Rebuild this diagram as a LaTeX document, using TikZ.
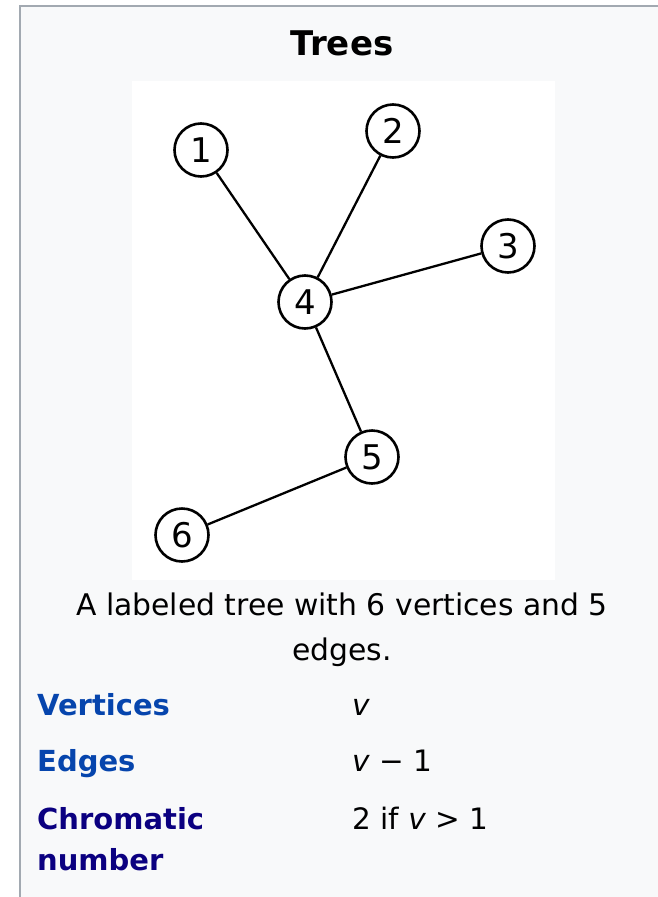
\documentclass[tikz,border=0pt]{standalone}
\usepackage{fontspec}
\setmainfont{DejaVu Sans}
\usetikzlibrary{positioning}
\definecolor{boxbg}{HTML}{F8F9FA}
\definecolor{boxline}{HTML}{A2A9B1}
\definecolor{linkblue}{HTML}{0645AD}
\definecolor{linkvisited}{HTML}{0B0080}
\tikzset{%
	vertex/.style  = {draw, circle, line width=2.6pt, minimum size=53pt, inner sep=0pt, fill=white, font=\fontsize{34}{34}\selectfont},
	edge/.style    = {line width=2.3pt},
	boxtitle/.style= {anchor=base, inner sep=0pt, font=\fontsize{34}{40}\selectfont\bfseries},
	caption/.style = {anchor=base, inner sep=0pt, font=\fontsize{29.8}{45}\selectfont},
	rowlabel/.style= {anchor=base west, inner sep=0pt, font=\fontsize{29}{43}\selectfont\bfseries, text=linkblue},
	rowvalue/.style= {anchor=base west, inner sep=0pt, font=\fontsize{29.5}{43}\selectfont},
}

\begin{document}
\begin{tikzpicture}[x=1pt,y=-1pt]
	\useasboundingbox (0,0) rectangle (658,897);
	% infobox background and border
	\fill[white] (0,0) rectangle (658,897);
	\fill[boxbg] (20,6) rectangle (658,897);
	\draw[boxline, line width=2.4pt] (20,897) -- (20,6) -- (658,6);
	\node[boxtitle] (title) at (342,55.5) {Trees};
	% the tree itself
	\fill[white] (132,81) rectangle (555,580);
	\node[vertex] (n1) at (201,150) {1};
	\node[vertex] (n2) at (393,131) {2};
	\node[vertex] (n3) at (508,246) {3};
	\node[vertex] (n4) at (305,302) {4};
	\node[vertex] (n5) at (372,457) {5};
	\node[vertex] (n6) at (182,535) {6};
	\draw[edge] (n1) -- (n4);
	\draw[edge] (n2) -- (n4);
	\draw[edge] (n3) -- (n4);
	\draw[edge] (n4) -- (n5);
	\draw[edge] (n5) -- (n6);
	% caption
	\node[caption] (cap1) at (342,615) {A labeled tree with 6 vertices and 5};
	\node[caption] (cap2) at (342,660) {edges.};
	% properties
	\node[rowlabel] (lv) at (37,715) {Vertices};
	\node[rowlabel] (le) at (37,771) {Edges};
	\node[rowlabel, text=linkvisited] (lc) at (37,829) {Chromatic};
	\node[rowlabel, text=linkvisited] (lc2) at (37,870) {number};
	\node[rowvalue] (vv) at (352,715) {\textit{v}};
	\node[rowvalue] (ve) at (352,771) {\textit{v} − 1};
	\node[rowvalue] (vc) at (352,829) {2 if \textit{v} > 1};
\end{tikzpicture}
\end{document}
